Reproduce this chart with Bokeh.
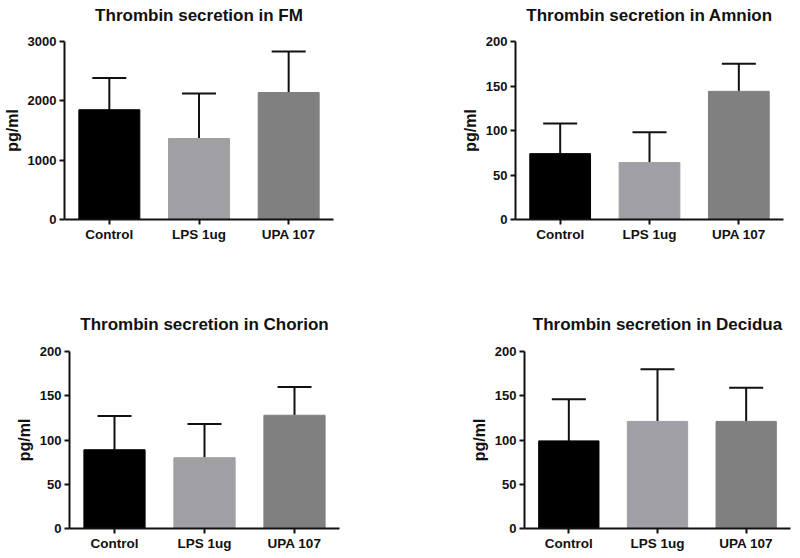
from bokeh.plotting import figure
from bokeh.layouts import column, row
from bokeh.models import ColumnDataSource, Whisker, TeeHead, FactorRange, Range1d, FixedTicker
from bokeh.embed import file_html
from bokeh.resources import INLINE

categories = ["Control", "LPS 1ug", "UPA 107"]
colors = ["#000000", "#a0a0a4", "#808080"]

titles = ["Thrombin secretion in FM", "Thrombin secretion in Amnion",
          "Thrombin secretion in Chorion", "Thrombin secretion in Decidua"]

fm_mean = [1850, 1365, 2140]
fm_upper = [2385, 2125, 2830]
amnion_mean = [74, 64, 144]
amnion_upper = [108, 98, 175]
chorion_mean = [89, 80, 128]
chorion_upper = [127, 118, 160]
decidua_mean = [99, 121, 121]
decidua_upper = [146, 180, 159]

y_max = [3000, 200, 200, 200]
y_ticks = [[0, 1000, 2000, 3000], [0, 50, 100, 150, 200], [0, 50, 100, 150, 200], [0, 50, 100, 150, 200]]

FONT = "Liberation Sans"


def panel(title, means, uppers, ymax, ticks, w, h, bl, br, bt, bb, standoff):
    src = ColumnDataSource(dict(cat=categories, mean=means, upper=uppers, color=colors))
    p = figure(x_range=FactorRange(*categories, range_padding=0), y_range=Range1d(0, ymax),
               width=w, height=h, min_border_left=bl, min_border_right=br,
               min_border_top=bt, min_border_bottom=bb,
               output_backend="svg", toolbar_location=None, tools="")
    p.vbar(x="cat", top="mean", width=0.68, fill_color="color", line_color="color", source=src)
    wh = Whisker(base="cat", upper="upper", lower="mean", source=src, line_width=2, line_color="#111111",
                 upper_head=TeeHead(size=34, line_width=2, line_color="#111111"), lower_head=None)
    p.add_layout(wh)
    p.title.text = title
    p.title.align = "center"
    p.title.vertical_align = "bottom"
    p.title.standoff = standoff
    p.title.text_font = FONT
    p.title.text_font_style = "bold"
    p.title.text_font_size = "17px"
    p.title.text_color = "#111111"
    p.outline_line_color = None
    p.xgrid.grid_line_color = None
    p.ygrid.grid_line_color = None
    p.yaxis.ticker = FixedTicker(ticks=ticks)
    p.yaxis.axis_label = "pg/ml"
    p.yaxis.axis_label_text_font = FONT
    p.yaxis.axis_label_text_font_style = "bold"
    p.yaxis.axis_label_text_font_size = "16px"
    p.yaxis.axis_label_text_color = "#111111"
    p.yaxis.axis_label_standoff = 4
    for ax in (p.xaxis, p.yaxis):
        ax.axis_line_width = 2
        ax.axis_line_color = "#111111"
        ax.major_tick_line_width = 2
        ax.major_tick_line_color = "#111111"
        ax.major_tick_out = 5
        ax.major_tick_in = 0
        ax.minor_tick_line_color = None
        ax.major_label_text_font = FONT
        ax.major_label_text_font_style = "bold"
        ax.major_label_text_font_size = "13px"
        ax.major_label_text_color = "#111111"
        ax.major_label_standoff = 3
    p.xaxis.major_label_text_font_size = "13.5px"
    p.xaxis.major_label_standoff = 2
    return p


p1 = panel(titles[0], fm_mean, fm_upper, y_max[0], y_ticks[0], 400, 305, 64, 67, 56, 71, 34)
p2 = panel(titles[1], amnion_mean, amnion_upper, y_max[1], y_ticks[1], 400, 305, 115, 17, 56, 71, 34)
p3 = panel(titles[2], chorion_mean, chorion_upper, y_max[2], y_ticks[2], 400, 266, 69, 61, 61, 28, 35)
p4 = panel(titles[3], decidua_mean, decidua_upper, y_max[3], y_ticks[3], 400, 266, 124, 10, 61, 28, 35)

layout = column(row(p1, p2), row(p3, p4), margin=(-15, 0, 0, 0))
open("out.html", "w").write(file_html(layout, INLINE))
